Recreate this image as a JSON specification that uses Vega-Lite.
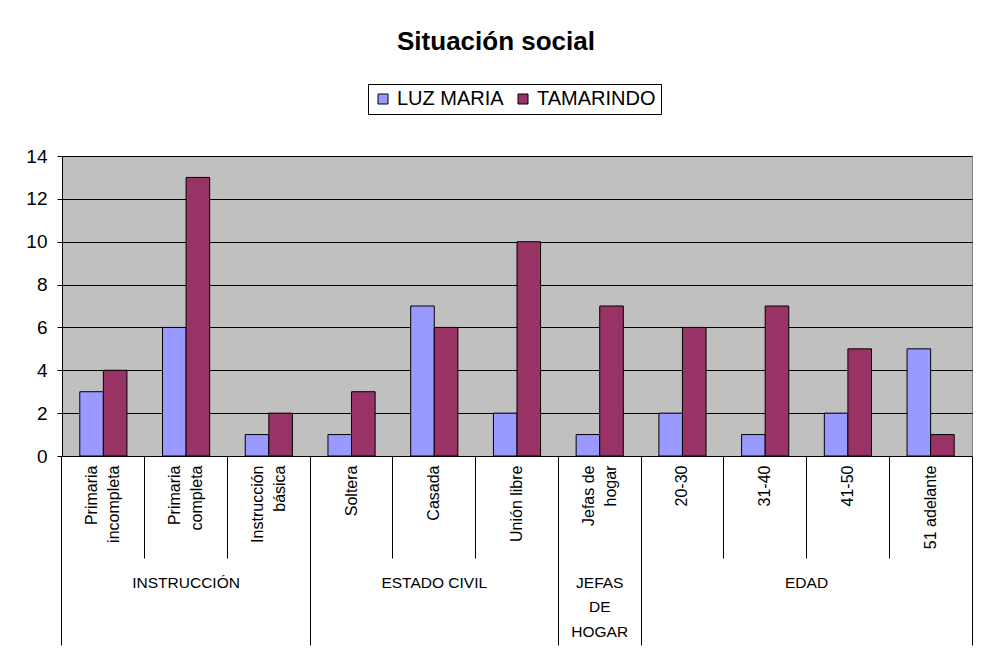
{
  "$schema": "https://vega.github.io/schema/vega-lite/v6.json",
  "autosize": "none",
  "width": 910,
  "height": 300,
  "padding": {"left": 62, "top": 156, "right": 14, "bottom": 209},
  "background": "white",
  "title": {
    "text": "Situación social",
    "font": "Liberation Sans",
    "fontSize": 26,
    "fontWeight": "bold",
    "color": "black",
    "anchor": "middle",
    "frame": "group",
    "dx": -21,
    "offset": 29
  },
  "config": {
    "view": {"fill": "#C0C0C0", "stroke": "#808080", "strokeWidth": 1},
    "font": "Liberation Sans",
    "axis": {"labelFont": "Liberation Sans", "labelColor": "black"}
  },
  "datasets": {
    "social": [
      {"categoria": "Primaria incompleta", "grupo": "INSTRUCCIÓN", "serie": "LUZ MARIA", "valor": 3},
      {"categoria": "Primaria incompleta", "grupo": "INSTRUCCIÓN", "serie": "TAMARINDO", "valor": 4},
      {"categoria": "Primaria completa", "grupo": "INSTRUCCIÓN", "serie": "LUZ MARIA", "valor": 6},
      {"categoria": "Primaria completa", "grupo": "INSTRUCCIÓN", "serie": "TAMARINDO", "valor": 13},
      {"categoria": "Instrucción básica", "grupo": "INSTRUCCIÓN", "serie": "LUZ MARIA", "valor": 1},
      {"categoria": "Instrucción básica", "grupo": "INSTRUCCIÓN", "serie": "TAMARINDO", "valor": 2},
      {"categoria": "Soltera", "grupo": "ESTADO CIVIL", "serie": "LUZ MARIA", "valor": 1},
      {"categoria": "Soltera", "grupo": "ESTADO CIVIL", "serie": "TAMARINDO", "valor": 3},
      {"categoria": "Casada", "grupo": "ESTADO CIVIL", "serie": "LUZ MARIA", "valor": 7},
      {"categoria": "Casada", "grupo": "ESTADO CIVIL", "serie": "TAMARINDO", "valor": 6},
      {"categoria": "Unión libre", "grupo": "ESTADO CIVIL", "serie": "LUZ MARIA", "valor": 2},
      {"categoria": "Unión libre", "grupo": "ESTADO CIVIL", "serie": "TAMARINDO", "valor": 10},
      {"categoria": "Jefas de hogar", "grupo": "JEFAS DE HOGAR", "serie": "LUZ MARIA", "valor": 1},
      {"categoria": "Jefas de hogar", "grupo": "JEFAS DE HOGAR", "serie": "TAMARINDO", "valor": 7},
      {"categoria": "20-30", "grupo": "EDAD", "serie": "LUZ MARIA", "valor": 2},
      {"categoria": "20-30", "grupo": "EDAD", "serie": "TAMARINDO", "valor": 6},
      {"categoria": "31-40", "grupo": "EDAD", "serie": "LUZ MARIA", "valor": 1},
      {"categoria": "31-40", "grupo": "EDAD", "serie": "TAMARINDO", "valor": 7},
      {"categoria": "41-50", "grupo": "EDAD", "serie": "LUZ MARIA", "valor": 2},
      {"categoria": "41-50", "grupo": "EDAD", "serie": "TAMARINDO", "valor": 5},
      {"categoria": "51 adelante", "grupo": "EDAD", "serie": "LUZ MARIA", "valor": 5},
      {"categoria": "51 adelante", "grupo": "EDAD", "serie": "TAMARINDO", "valor": 1}
    ]
  },
  "data": {"name": "social"},
  "resolve": {"axis": {"x": "independent"}},
  "layer": [
    {
      "mark": {"type": "bar", "stroke": "black", "strokeWidth": 1},
      "encoding": {
        "x": {
          "field": "categoria",
          "type": "nominal",
          "scale": {
            "domain": ["Primaria incompleta", "Primaria completa", "Instrucción básica", "Soltera", "Casada", "Unión libre", "Jefas de hogar", "20-30", "31-40", "41-50", "51 adelante"],
            "paddingInner": 0.43,
            "paddingOuter": 0.215
          },
          "axis": {
            "orient": "bottom",
            "title": null,
            "domain": false,
            "ticks": false,
            "grid": false,
            "labelAngle": 270,
            "labelAlign": "right",
            "labelBaseline": "middle",
            "labelPadding": 9,
            "labelFontSize": 16,
            "labelLineHeight": 22,
            "labelLimit": 200,
            "labelOffset": {"condition": {"test": "indexof(['Primaria incompleta', 'Primaria completa', 'Instrucción básica', 'Jefas de hogar'], datum.value) >= 0", "value": -11}, "value": 0},
            "labelExpr": "datum.value == 'Primaria incompleta' ? ['Primaria', 'incompleta'] : datum.value == 'Primaria completa' ? ['Primaria', 'completa'] : datum.value == 'Instrucción básica' ? ['Instrucción', 'básica'] : datum.value == 'Jefas de hogar' ? ['Jefas de', 'hogar'] : datum.value"
          }
        },
        "xOffset": {
          "field": "serie",
          "type": "nominal",
          "scale": {"domain": ["LUZ MARIA", "TAMARINDO"], "paddingInner": 0, "paddingOuter": 0}
        },
        "y": {
          "field": "valor",
          "type": "quantitative",
          "scale": {"domain": [0, 14], "nice": false},
          "axis": {
            "title": null,
            "values": [0, 2, 4, 6, 8, 10, 12, 14],
            "grid": true,
            "gridColor": "black",
            "gridWidth": 1,
            "gridOpacity": 1,
            "domain": true,
            "domainColor": "black",
            "tickColor": "black",
            "tickSize": 5,
            "labelFontSize": 19,
            "labelPadding": 10
          }
        },
        "color": {
          "field": "serie",
          "type": "nominal",
          "scale": {"domain": ["LUZ MARIA", "TAMARINDO"], "range": ["#9999FF", "#993366"]},
          "legend": {
            "title": null,
            "orient": "none",
            "direction": "horizontal",
            "legendX": 306,
            "legendY": -72,
            "strokeColor": "black",
            "fillColor": "white",
            "padding": 5,
            "symbolType": "square",
            "symbolSize": 100,
            "symbolStrokeColor": "black",
            "symbolStrokeWidth": 1,
            "symbolOpacity": 1,
            "labelFont": "Liberation Sans",
            "labelFontSize": 20,
            "labelColor": "black",
            "labelOffset": 4,
            "columnPadding": 9,
            "labelLimit": 300
          }
        }
      }
    },
    {
      "mark": {"type": "text", "text": ""},
      "encoding": {
        "x": {
          "field": "categoria",
          "type": "nominal",
          "axis": {
            "orient": "bottom",
            "title": null,
            "domain": false,
            "labels": false,
            "grid": false,
            "bandPosition": -0.3772,
            "ticks": true,
            "tickColor": "black",
            "tickWidth": 1,
            "tickSize": {"condition": {"test": "datum.value == 'Primaria incompleta'", "value": 189}, "value": 102}
          }
        }
      }
    },
    {
      "mark": {"type": "text", "text": ""},
      "encoding": {
        "x": {
          "field": "categoria",
          "type": "nominal",
          "axis": {
            "orient": "bottom",
            "title": null,
            "domain": false,
            "labels": false,
            "grid": false,
            "bandPosition": 1.3772,
            "values": ["Instrucción básica", "Unión libre", "Jefas de hogar", "51 adelante"],
            "ticks": true,
            "tickColor": "black",
            "tickWidth": 1,
            "tickSize": 189
          }
        }
      }
    },
    {
      "mark": {"type": "text", "text": ""},
      "encoding": {
        "x": {
          "field": "categoria",
          "type": "nominal",
          "axis": {
            "orient": "bottom",
            "title": null,
            "domain": false,
            "ticks": false,
            "grid": false,
            "values": ["Primaria completa", "Casada", "Jefas de hogar", "31-40"],
            "labelAngle": 0,
            "labelAlign": "center",
            "labelBaseline": "top",
            "labelPadding": 119,
            "labelFontSize": 15.5,
            "labelLineHeight": 24.5,
            "labelOffset": {"condition": {"test": "datum.value == '31-40'", "value": 41.36}, "value": 0},
            "labelExpr": "datum.value == 'Primaria completa' ? 'INSTRUCCIÓN' : datum.value == 'Casada' ? 'ESTADO CIVIL' : datum.value == 'Jefas de hogar' ? ['JEFAS', 'DE', 'HOGAR'] : 'EDAD'"
          }
        }
      }
    }
  ]
}
